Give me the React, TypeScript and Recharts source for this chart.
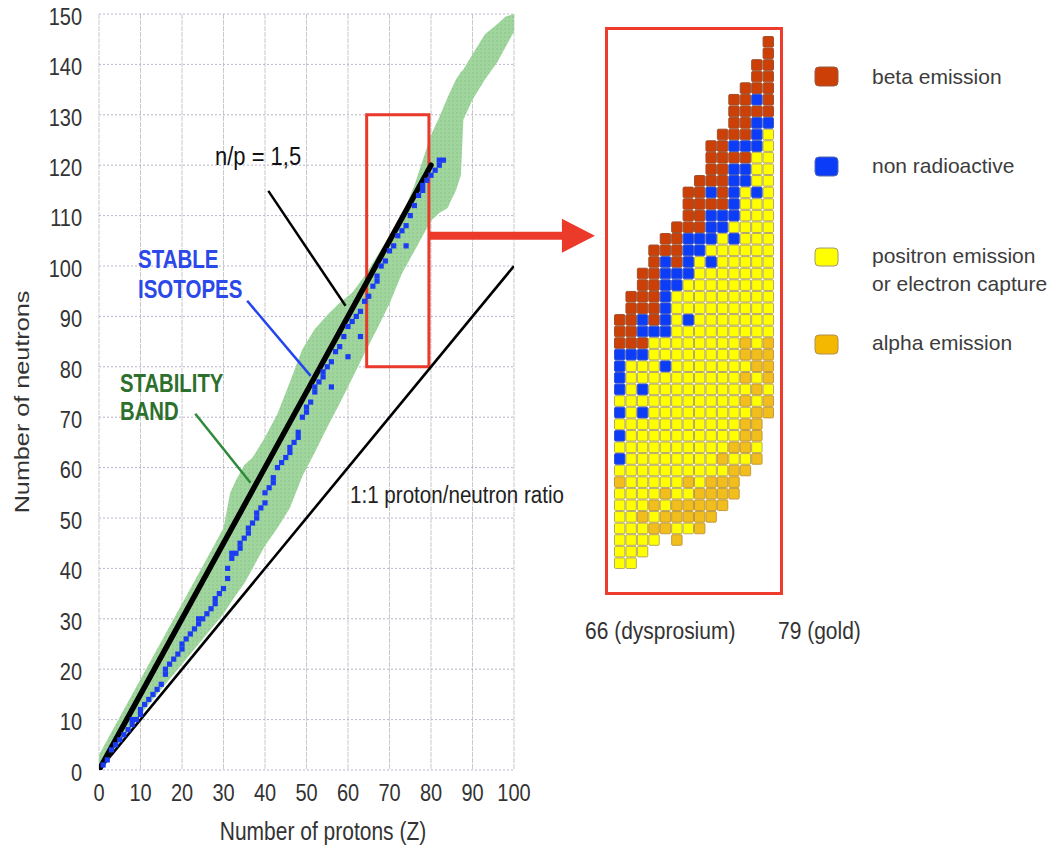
import React from "react";
import {
  ComposedChart,
  ScatterChart,
  Area,
  Line,
  Scatter,
  XAxis,
  YAxis,
  CartesianGrid,
  ReferenceArea,
  ReferenceLine,
} from "recharts";

const FONT = "'Liberation Sans', Arial, sans-serif";

// ---- left chart: neutrons vs protons ----
const protonTicks = [0, 10, 20, 30, 40, 50, 60, 70, 80, 90, 100];
const neutronTicks = [0, 10, 20, 30, 40, 50, 60, 70, 80, 90, 100, 110, 120, 130, 140, 150];

// stability band (lower / upper edge at each Z)
const bandZ = [0, 1, 5, 10, 15, 20, 25, 30, 31.6, 33, 35, 37, 40, 43, 46, 49, 52, 55, 58, 61, 64, 67, 70, 73, 76, 78, 80, 82, 84, 86, 87.2, 87.8, 90, 93, 96, 98, 100];
const bandLow = [0, 1, 5.5, 11, 16, 21, 26, 31, 33, 34.7, 37, 40, 44.5, 48, 52, 58.3, 63, 68, 72.7, 77.7, 82.7, 87.5, 92.5, 98.5, 103, 106, 109, 110.5, 111.5, 115, 118, 129, 133, 137, 140.5, 143.5, 146.5];
const bandHigh = [3, 4.5, 10.5, 18, 25.5, 33, 40.5, 48, 55, 57.5, 60.5, 62, 66, 70.7, 77, 83.5, 87.5, 90.3, 92.7, 94.7, 98, 102, 106, 110, 116, 121, 126, 129.5, 133.5, 137, 138.5, 139, 142, 146, 148, 149.5, 150];

// stable isotopes [Z, N] as plotted in the picture
const stableIsotopes: [number, number][] = [
  [1, 1], [2, 2], [3, 4], [4, 5], [5, 6], [6, 7], [7, 8], [8, 9], [8, 10], [9, 10], [10, 11], [10, 12],
  [11, 13], [12, 14], [13, 15], [14, 16], [15, 17], [16, 19], [16, 20], [17, 21], [18, 22], [19, 23],
  [20, 24], [20, 25], [21, 26], [22, 27], [23, 28], [24, 29], [24, 30], [25, 30], [26, 31], [27, 32],
  [28, 33], [28, 34], [29, 35], [30, 36], [31, 38], [31, 40], [32, 42], [32, 43], [33, 43], [34, 44],
  [34, 45], [35, 46], [36, 47], [36, 48], [37, 49], [38, 50], [38, 51], [39, 52], [40, 53], [40, 55],
  [41, 56], [42, 57], [42, 58], [43, 60], [44, 61], [45, 62], [46, 63], [46, 64], [47, 65], [48, 66],
  [48, 67], [49, 70], [50, 71], [50, 72], [51, 73], [52, 75], [52, 76], [53, 77], [54, 78], [54, 79],
  [55, 80], [56, 81], [56, 76], [57, 83], [58, 84], [59, 86], [60, 82], [60, 88], [61, 89], [62, 90],
  [63, 91], [63, 86], [64, 93], [65, 94], [66, 96], [67, 97], [67, 98], [68, 100], [69, 101], [70, 103],
  [71, 104], [72, 106], [73, 107], [74, 108], [74, 104], [75, 110], [76, 112], [77, 114], [78, 115],
  [78, 116], [79, 117], [80, 118], [81, 119], [82, 120], [82, 121], [83, 121],
];

const ratio15Z = [0, 80];
const ratio15N = [0, 120];
const ratio11Z = [0, 100];
const ratio11N = [0, 100];

// ---- zoomed panel: Z 66 (dysprosium) .. 79 (gold) ----
const panelZ = [66, 67, 68, 69, 70, 71, 72, 73, 74, 75, 76, 77, 78, 79];
const panelTopN = [103, 105, 107, 109, 110, 111, 114, 115, 118, 119, 122, 123, 125, 127];
const panelBottomN = [82, 82, 83, 84, 85, 84, 85, 85, 86, 87, 88, 90, 91, 95];
const panelBetaN = [
  [103, 102, 101],
  [105, 104, 103, 102, 101],
  [107, 106, 105, 104, 101],
  [109, 108, 107, 106, 105, 104, 103],
  [110, 109],
  [111, 110, 109, 108],
  [114, 113, 112, 111],
  [115, 114, 113, 112, 111],
  [118, 117, 116, 115, 113],
  [119, 118, 117, 116, 115, 114, 113],
  [122, 121, 120, 119, 117],
  [123, 122, 121, 120, 119, 117],
  [125, 124, 123, 121],
  [127, 126, 125, 124, 123, 122, 121],
];
const panelStableN = [
  [100, 99, 98, 97, 95, 93, 91],
  [100],
  [103, 102, 100, 97, 95],
  [102],
  [108, 107, 106, 105, 104, 103, 102, 99],
  [107, 106],
  [110, 109, 108, 107, 103],
  [110, 109],
  [114, 112, 111, 110, 108],
  [112, 111],
  [118, 116, 115, 114, 113, 112, 110],
  [118, 116, 115],
  [122, 120, 119, 118, 114],
  [120],
];
const panelAlphaN = [
  [89],
  [],
  [86],
  [87, 85],
  [88, 86, 85],
  [87, 86, 84],
  [89, 87, 86],
  [88, 87, 86, 85],
  [89, 88, 87, 86],
  [91, 89, 88, 87],
  [92, 90, 89, 88],
  [101, 100, 98, 96, 94, 93, 92, 90],
  [100, 99, 97, 95, 94, 93, 91],
  [101, 100, 99, 98, 96, 95],
];

const legendLabels = ["beta emission", "non radioactive", "positron emission", "alpha emission"];

// tables for the library
const bandData = bandZ.map((z, i) => ({ z, band: [bandLow[i], bandHigh[i]] }));
const isotopeData = stableIsotopes.map(([z, n]) => ({ z, n }));
const ratio15Data = ratio15Z.map((z, i) => ({ z, n: ratio15N[i] }));
const ratio11Data = ratio11Z.map((z, i) => ({ z, n: ratio11N[i] }));

type Nuclide = { z: number; n: number };
const betaCells: Nuclide[] = [];
const stableCells: Nuclide[] = [];
const alphaCells: Nuclide[] = [];
const positronCells: Nuclide[] = [];
panelZ.forEach((z, i) => {
  for (let n = panelBottomN[i]; n <= panelTopN[i]; n++) {
    const c = { z, n };
    if (panelStableN[i].includes(n)) stableCells.push(c);
    else if (panelBetaN[i].includes(n)) betaCells.push(c);
    else if (panelAlphaN[i].includes(n)) alphaCells.push(c);
    else positronCells.push(c);
  }
});

const ProtonTick = (props: any) => (
  <g transform={`translate(${props.x},${props.y}) scale(1,1.2)`}>
    <text x={0} y={26} textAnchor="middle" fontSize={20} fill="#333" fontFamily={FONT}>
      {props.payload.value}
    </text>
  </g>
);

const NeutronTick = (props: any) => (
  <g transform={`translate(${props.x},${props.y}) scale(1,1.2)`}>
    <text x={-17} y={9} textAnchor="end" fontSize={20} fill="#333" fontFamily={FONT}>
      {props.payload.value}
    </text>
  </g>
);

const XTitle = () => (
  <g transform="translate(323,840) scale(1,1.2)">
    <text textAnchor="middle" fontSize={21} fill="#333" fontFamily={FONT}>
      Number of protons (Z)
    </text>
  </g>
);

const YTitle = () => (
  <g transform="translate(29,402) rotate(-90) scale(1.2,1)">
    <text textAnchor="middle" fontSize={21} fill="#333" fontFamily={FONT}>
      Number of neutrons
    </text>
  </g>
);

const IsotopeDot = (p: any) => <rect x={p.cx - 2.6} y={p.cy - 2.6} width={5.2} height={5.2} fill="#1c3cf4" />;

const RedArrow = (p: any) => {
  const { x1, y1, x2, y2 } = p;
  return (
    <g>
      <line x1={x1} y1={y1} x2={x2 - 30} y2={y2} stroke="#ec3a2a" strokeWidth={8} />
      <polygon points={`${x2},${y2} ${x2 - 33},${y2 - 17} ${x2 - 33},${y2 + 17}`} fill="#ec3a2a" />
    </g>
  );
};

const cellShape = (fill: string, stroke: string) => (p: any) => (
  <rect x={p.cx - 5.2} y={p.cy - 5.3} width={10.4} height={10.6} rx={1.2} fill={fill} stroke={stroke} strokeWidth={1} />
);

const COLORS = {
  beta: "#cc3f06",
  stable: "#0b3cf8",
  positron: "#ffff00",
  alpha: "#f2be1c",
};

const StretchText = ({ x, y, sy, children, ...rest }: any) => (
  <g transform={`translate(${x},${y}) scale(1,${sy})`}>
    <text fontFamily={FONT} {...rest}>
      {children}
    </text>
  </g>
);

export default function App() {
  return (
    <div style={{ position: "absolute", left: 0, top: 0, width: 1057, height: 852, background: "#fff" }}>
      <div style={{ position: "absolute", left: 0, top: 0 }}>
        <ComposedChart width={600} height={852} data={bandData} margin={{ top: 14, right: 86, bottom: 32, left: 0 }}>
          <defs>
            <pattern id="stipple" width="4" height="4" patternUnits="userSpaceOnUse">
              <rect width="4" height="4" fill="#a0d69e" />
              <circle cx="1" cy="1" r="0.7" fill="#82bd82" />
            </pattern>
          </defs>
          <CartesianGrid horizontal={false} stroke="#c9c9c9" strokeDasharray="5 1" />
          <CartesianGrid vertical={false} stroke="#bdb3cc" strokeDasharray="2 2" />
          <XAxis
            dataKey="z"
            type="number"
            domain={[0, 100]}
            ticks={protonTicks}
            allowDataOverflow
            height={50}
            axisLine={false}
            tickLine={false}
            tickSize={0}
            tickMargin={0}
            tick={ProtonTick}
            label={XTitle}
          />
          <YAxis
            dataKey="n"
            type="number"
            domain={[0, 150]}
            ticks={neutronTicks}
            allowDataOverflow
            width={99}
            axisLine={false}
            tickLine={false}
            tickSize={0}
            tickMargin={0}
            tick={NeutronTick}
            label={YTitle}
          />
          <Area dataKey="band" type="linear" stroke="none" fill="url(#stipple)" fillOpacity={1} isAnimationActive={false} />
          <Line data={ratio11Data} dataKey="n" stroke="#000" strokeWidth={2.6} dot={false} isAnimationActive={false} />
          <Line data={ratio15Data} dataKey="n" stroke="#000" strokeWidth={5.5} strokeLinecap="round" dot={false} isAnimationActive={false} />
          <Scatter data={isotopeData} fill="#1c3cf4" shape={IsotopeDot} isAnimationActive={false} />
          <ReferenceArea x1={64.5} x2={79.5} y1={80} y2={130} fill="none" stroke="#e8392b" strokeWidth={3} />
          <ReferenceLine segment={[{ x: 40.8, y: 114.9 }, { x: 59.4, y: 92.1 }]} stroke="#000" strokeWidth={2.5} />
          <ReferenceLine segment={[{ x: 35.7, y: 93.1 }, { x: 51.0, y: 78.2 }]} stroke="#2344ee" strokeWidth={2.5} />
          <ReferenceLine segment={[{ x: 23.2, y: 70.7 }, { x: 36.5, y: 57.0 }]} stroke="#2e8a3a" strokeWidth={2.5} />
          <ReferenceLine
            segment={[{ x: 79.5, y: 106 }, { x: 119.5, y: 106 }]}
            ifOverflow="visible"
            shape={RedArrow}
          />
        </ComposedChart>
      </div>

      <div
        style={{
          position: "absolute",
          left: 605,
          top: 27,
          width: 178,
          height: 568,
          border: "3px solid #ee3b2b",
          boxSizing: "border-box",
        }}
      />
      <div style={{ position: "absolute", left: 614, top: 36 }}>
        <ScatterChart width={160} height={533} margin={{ top: 0, right: 0, bottom: 0, left: 0 }}>
          <XAxis dataKey="z" type="number" domain={[65.5, 79.5]} hide />
          <YAxis dataKey="n" type="number" domain={[81.5, 127.5]} hide />
          <Scatter data={positronCells} fill={COLORS.positron} shape={cellShape(COLORS.positron, "#b4a86a")} isAnimationActive={false} />
          <Scatter data={alphaCells} fill={COLORS.alpha} shape={cellShape(COLORS.alpha, "#c09a40")} isAnimationActive={false} />
          <Scatter data={betaCells} fill={COLORS.beta} shape={cellShape(COLORS.beta, "#a0502c")} isAnimationActive={false} />
          <Scatter data={stableCells} fill={COLORS.stable} shape={cellShape(COLORS.stable, "#3a55c8")} isAnimationActive={false} />
        </ScatterChart>
      </div>

      <svg width={1057} height={852} style={{ position: "absolute", left: 0, top: 0, pointerEvents: "none" }}>
        <StretchText x={215} y={165} sy={1.2} fontSize={22} fill="#111">n/p = 1,5</StretchText>
        <StretchText x={138} y={268} sy={1.3} fontSize={20.5} fontWeight="bold" fill="#2b48e8">STABLE</StretchText>
        <StretchText x={138} y={298} sy={1.3} fontSize={20.5} fontWeight="bold" fill="#2b48e8">ISOTOPES</StretchText>
        <StretchText x={120} y={392} sy={1.3} fontSize={20.3} fontWeight="bold" fill="#2d6f2d">STABILITY</StretchText>
        <StretchText x={120} y={420} sy={1.3} fontSize={20.3} fontWeight="bold" fill="#2d6f2d">BAND</StretchText>
        <StretchText x={350} y={503} sy={1.15} fontSize={20.6} fill="#222">1:1 proton/neutron ratio</StretchText>

        <StretchText x={585} y={639} sy={1.15} fontSize={21} fill="#333">66 (dysprosium)</StretchText>
        <StretchText x={778} y={639} sy={1.15} fontSize={21} fill="#333">79 (gold)</StretchText>

        <rect x={815} y={67} width={23} height={19} rx={4} fill={COLORS.beta} stroke="#9a5a40" />
        <rect x={815} y={157} width={23} height={19} rx={4} fill={COLORS.stable} stroke="#5a6ab0" />
        <rect x={815} y={248} width={23} height={18} rx={4} fill={COLORS.positron} stroke="#a09a70" />
        <rect x={815} y={335} width={23} height={19} rx={4} fill="#f5b800" stroke="#b09050" />
        <text x={872} y={84} fontSize={21} fill="#3c3c3c" fontFamily={FONT}>{legendLabels[0]}</text>
        <text x={872} y={173} fontSize={21} fill="#3c3c3c" fontFamily={FONT}>{legendLabels[1]}</text>
        <text x={872} y={263} fontSize={21} fill="#3c3c3c" fontFamily={FONT}>{legendLabels[2]}</text>
        <text x={872} y={291} fontSize={21} fill="#3c3c3c" fontFamily={FONT}>or electron capture</text>
        <text x={872} y={350} fontSize={21} fill="#3c3c3c" fontFamily={FONT}>{legendLabels[3]}</text>
      </svg>
    </div>
  );
}
